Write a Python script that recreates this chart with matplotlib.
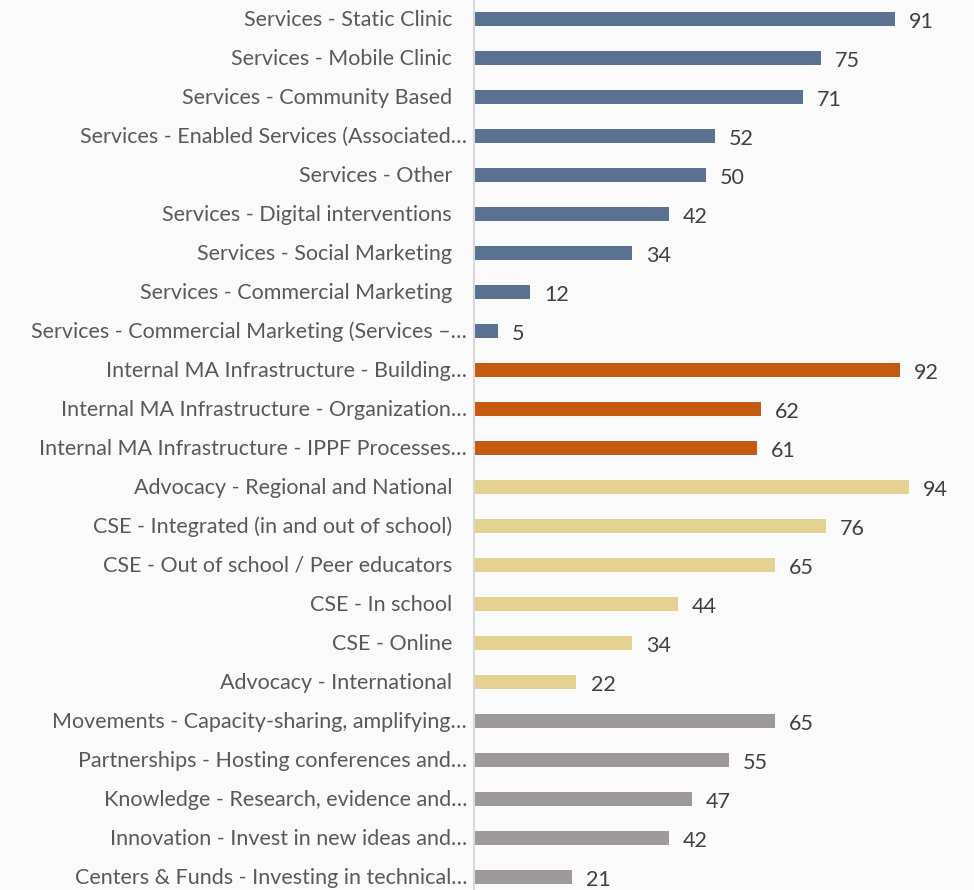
import matplotlib.pyplot as plt

categories = [
    "Services - Static Clinic",
    "Services - Mobile Clinic",
    "Services - Community Based",
    "Services - Enabled Services (Associated…",
    "Services - Other",
    "Services - Digital interventions",
    "Services - Social Marketing",
    "Services - Commercial Marketing",
    "Services - Commercial Marketing (Services –…",
    "Internal MA Infrastructure - Building…",
    "Internal MA Infrastructure - Organization…",
    "Internal MA Infrastructure - IPPF Processes…",
    "Advocacy - Regional and National",
    "CSE - Integrated (in and out of school)",
    "CSE - Out of school / Peer educators",
    "CSE - In school",
    "CSE - Online",
    "Advocacy - International",
    "Movements - Capacity-sharing, amplifying…",
    "Partnerships - Hosting conferences and…",
    "Knowledge - Research, evidence and…",
    "Innovation - Invest in new ideas and…",
    "Centers & Funds - Investing in technical…",
]
values = [91, 75, 71, 52, 50, 42, 34, 12, 5,
          92, 62, 61,
          94, 76, 65, 44, 34, 22,
          65, 55, 47, 42, 21]
groups = ["services"] * 9 + ["internal"] * 3 + ["advocacy"] * 6 + ["other"] * 5

group_colors = {
    "services": "#5b7191",
    "internal": "#c55a11",
    "advocacy": "#e4d293",
    "other": "#9e9a99",
}

bg = "#fafafa"
fig = plt.figure(figsize=(9.74, 8.9), dpi=100, facecolor=bg)
ax = fig.add_axes([474 / 974, 0, 1 - 474 / 974, 1], facecolor=bg)

ypos = list(range(len(categories)))
colors = [group_colors[g] for g in groups]
ax.barh(ypos, values, height=0.35, color=colors, left=0.2)

ax.set_xlim(0, 108.3)
ax.set_ylim(22 + 13 / 39, -19 / 39)

font = "Lato"
for y, v in zip(ypos, values):
    ax.annotate(str(v), xy=(v, y), xytext=(15, -3), textcoords="offset pixels",
                ha="left", va="center", fontsize=15.5, color="#404040", family=font)

for y, lab in zip(ypos, categories):
    pad = 7 if lab.endswith("…") else 22
    ax.annotate(lab, xy=(0, y), xytext=(-pad, -1), textcoords="offset pixels",
                ha="right", va="center", fontsize=15.5, color="#595959",
                family=font, annotation_clip=False)

ax.set_xticks([])
ax.set_yticks([])
for side in ["top", "right", "bottom"]:
    ax.spines[side].set_visible(False)
ax.spines["left"].set_color("#d9d9d9")
ax.spines["left"].set_linewidth(1.5)

fig.savefig("out.png", dpi=100, facecolor=bg)
